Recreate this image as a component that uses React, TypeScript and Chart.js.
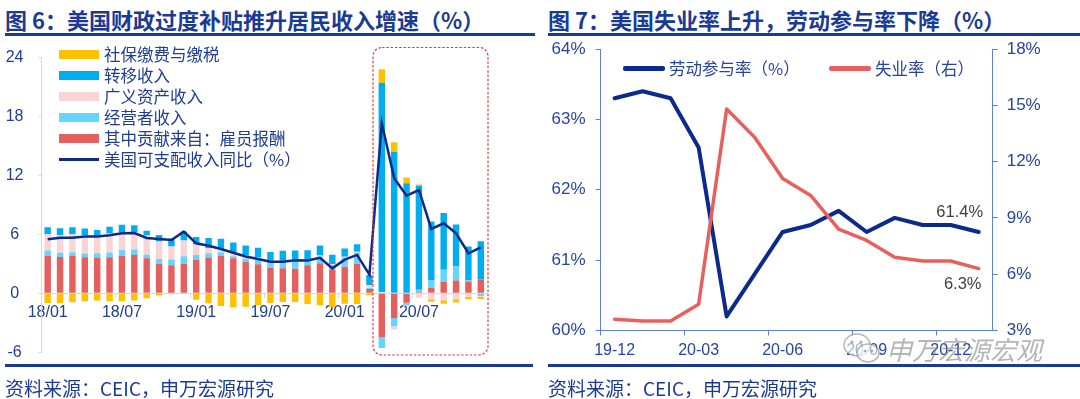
import React, { useEffect, useRef } from 'react';
import { Chart, registerables } from 'chart.js';

Chart.register(...registerables);

// ---------- Figure 6 data ----------
const incomeMonths = [
  '18/01', '18/02', '18/03', '18/04', '18/05', '18/06', '18/07', '18/08', '18/09', '18/10', '18/11', '18/12',
  '19/01', '19/02', '19/03', '19/04', '19/05', '19/06', '19/07', '19/08', '19/09', '19/10', '19/11', '19/12',
  '20/01', '20/02', '20/03', '20/04', '20/05', '20/06', '20/07', '20/08', '20/09', '20/10', '20/11', '20/12',
];
const compensation = [3.83, 3.69, 3.8, 3.66, 3.63, 3.66, 3.83, 3.9, 3.56, 3.0, 2.85, 2.98, 3.39, 3.63, 3.83, 3.56, 3.22, 2.95, 2.61, 2.54, 2.5, 2.85, 3.05, 2.42, 2.71, 2.98, 0.45, -4.45, -2.5, -0.95, 0.1, 0.55, 1.15, 1.3, 1.2, 1.4];
const proprietors = [0.51, 0.44, 0.37, 0.4, 0.44, 0.5, 0.58, 0.55, 0.36, 0.48, 0.6, 0.8, 0.5, 0.44, 0.34, 0.2, 0.3, 0.55, 0.6, 0.68, 0.85, 0.5, 0.68, 0.44, 0.9, 1.15, 0.1, -1.1, -0.85, -0.25, 0.25, 0.75, 1.25, 1.45, 0.1, -0.27];
const assetIncome = [1.66, 1.8, 1.83, 1.86, 1.7, 1.93, 1.8, 1.73, 1.97, 1.8, 1.3, 1.6, 1.08, 0.5, 0.34, 0.4, 0.35, 0.15, 0.1, 0.1, 0.1, 0.12, 0.12, 0.12, 0.1, 0.1, 0.3, 0.1, -0.34, -0.1, -0.45, -0.6, -0.7, -0.6, -0.34, -0.1];
const transfers = [0.71, 0.68, 0.71, 0.68, 0.68, 0.68, 0.75, 0.75, 0.47, 0.65, 0.82, 0.9, 0.75, 1.05, 1.05, 1.0, 1.0, 0.98, 0.9, 1.0, 0.9, 0.92, 1.0, 0.95, 0.85, 0.75, 1.0, 21.3, 14.4, 11.2, 10.6, 6.0, 5.76, 4.24, 3.46, 3.9];
const socialTax = [-0.98, -1.0, -0.92, -0.82, -0.74, -0.82, -0.82, -0.74, -0.5, -0.23, -0.08, 0, -0.66, -1.0, -1.3, -1.45, -1.38, -1.22, -0.98, -0.88, -0.88, -1.1, -1.22, -1.4, -1.06, -1.08, -0.2, 1.39, 0.95, 0.58, 0.12, -0.25, -0.35, -0.34, -0.27, -0.2];
const incomeYoY = [5.5, 5.66, 5.66, 5.78, 5.78, 5.9, 6.1, 6.12, 5.63, 5.53, 5.42, 6.27, 5.08, 4.83, 4.5, 4.12, 3.75, 3.48, 3.22, 3.2, 3.35, 3.33, 3.6, 2.54, 3.42, 3.9, 1.9, 17.29, 11.7, 9.93, 10.5, 6.54, 7.12, 6.1, 4.07, 4.68];

// ---------- Figure 7 data ----------
const laborMonths = ['19-12', '20-01', '20-02', '20-03', '20-04', '20-05', '20-06', '20-07', '20-08', '20-09', '20-10', '20-11', '20-12', '21-01'];
const participation = [63.3, 63.4, 63.3, 62.6, 60.2, 60.8, 61.4, 61.5, 61.7, 61.4, 61.6, 61.5, 61.5, 61.4];
const unemployment = [3.6, 3.5, 3.5, 4.4, 14.8, 13.3, 11.1, 10.2, 8.4, 7.8, 6.9, 6.7, 6.7, 6.3];

// ---------- styles ----------
const NUM_FONT = '"Liberation Sans", Arial, "Noto Sans CJK SC", sans-serif';
const CJK_FONT = '"Noto Sans CJK SC", "Liberation Sans", sans-serif';
const TITLE_BLUE = '#1B3A94';
const TICK_NAVY = '#1F3D92';
const TICK_BLUE = '#27449F';
const GRAY = '#D9D9D9';
const AXIS_BLUE = '#5B80D8';
const C_YELLOW = '#FFC000';
const C_BLUE = '#00AEEF';
const C_PINK = '#F9D4D4';
const C_CYAN = '#64D5FD';
const C_RED = '#E65F5F';
const C_NAVY = '#0E2A86';
const L_NAVY = '#0B2A8C';
const L_RED = '#E8605E';

const leftLegend = [
  { label: '社保缴费与缴税', color: C_YELLOW, line: false },
  { label: '转移收入', color: C_BLUE, line: false },
  { label: '广义资产收入', color: C_PINK, line: false },
  { label: '经营者收入', color: C_CYAN, line: false },
  { label: '其中贡献来自：雇员报酬', color: C_RED, line: false },
  { label: '美国可支配收入同比（%）', color: C_NAVY, line: true },
];

function makeIncomeConfig(): any {
  return {
    type: 'bar',
    data: {
      labels: incomeMonths,
      datasets: [
        { type: 'line', label: '美国可支配收入同比（%）', data: incomeYoY, borderColor: C_NAVY, backgroundColor: C_NAVY, borderWidth: 2.5, pointRadius: 0, tension: 0, order: 0, stack: 'line' },
        { label: '其中贡献来自：雇员报酬', data: compensation, backgroundColor: C_RED, order: 1, stack: 'inc' },
        { label: '经营者收入', data: proprietors, backgroundColor: C_CYAN, order: 1, stack: 'inc' },
        { label: '广义资产收入', data: assetIncome, backgroundColor: C_PINK, order: 1, stack: 'inc' },
        { label: '转移收入', data: transfers, backgroundColor: C_BLUE, order: 1, stack: 'inc' },
        { label: '社保缴费与缴税', data: socialTax, backgroundColor: C_YELLOW, order: 1, stack: 'inc' },
      ],
    },
    options: {
      responsive: false,
      animation: false,
      layout: { padding: { left: 0, right: 13, top: 26.3, bottom: 25.7 } },
      datasets: { bar: { barPercentage: 0.52, categoryPercentage: 1 } },
      plugins: { legend: { display: false }, tooltip: { enabled: false } },
      scales: {
        x: {
          stacked: true,
          position: { y: 0 },
          offset: true,
          grid: {
            offset: true,
            drawOnChartArea: false,
            tickLength: 4,
            color: (c: any) => (c.index % 6 === 0 ? GRAY : 'rgba(0,0,0,0)'),
          },
          border: { color: GRAY },
          ticks: {
            autoSkip: false,
            maxRotation: 0,
            padding: 6,
            color: TICK_NAVY,
            font: { family: NUM_FONT, size: 16 },
            callback: (_v: any, i: number) => (i % 6 === 0 ? incomeMonths[i] : ''),
          },
          afterFit: (s: any) => { s.height = 0; },
        },
        y: {
          stacked: true,
          min: -6,
          max: 24,
          ticks: {
            stepSize: 6,
            crossAlign: 'center',
            padding: 15,
            color: TICK_NAVY,
            font: { family: NUM_FONT, size: 16 },
          },
          grid: {
            tickLength: 3,
            tickColor: GRAY,
            color: (c: any) => (c.tick && c.tick.value === 0 ? GRAY : 'rgba(0,0,0,0)'),
          },
          border: { color: GRAY },
          afterFit: (s: any) => { s.width = 41.5; },
        },
      },
    },
  };
}

const endLabels = {
  id: 'endLabels',
  afterDatasetsDraw(chart: any) {
    const ctx = chart.ctx;
    ctx.save();
    ctx.font = `16.5px ${NUM_FONT}`;
    ctx.fillStyle = '#404040';
    ctx.textAlign = 'center';
    ctx.textBaseline = 'middle';
    chart.data.datasets.forEach((ds: any, di: number) => {
      const meta = chart.getDatasetMeta(di);
      const last = meta.data[meta.data.length - 1];
      if (!last) return;
      const v = ds.data[ds.data.length - 1];
      const text = `${Number(v).toFixed(1)}%`;
      if (ds.yAxisID === 'y1') ctx.fillText(text, last.x - 16, last.y + 16);
      else ctx.fillText(text, last.x - 19, last.y - 20);
    });
    ctx.restore();
  },
};

function makeLaborConfig(): any {
  return {
    type: 'line',
    data: {
      labels: laborMonths,
      datasets: [
        { label: '失业率（右）', data: unemployment, yAxisID: 'y1', borderColor: L_RED, backgroundColor: L_RED, borderWidth: 3.5, order: 0 },
        { label: '劳动参与率（%）', data: participation, yAxisID: 'y', borderColor: L_NAVY, backgroundColor: L_NAVY, borderWidth: 4, order: 1 },
      ],
    },
    options: {
      responsive: false,
      animation: false,
      layout: { padding: { left: 0, right: 0, top: 21, bottom: 0 } },
      elements: { point: { radius: 0 }, line: { tension: 0, borderJoinStyle: 'round', borderCapStyle: 'round' } },
      plugins: { legend: { display: false }, tooltip: { enabled: false } },
      scales: {
        x: {
          offset: true,
          grid: {
            offset: true,
            drawOnChartArea: false,
            tickLength: 5,
            color: (c: any) => (c.index % 3 === 0 ? AXIS_BLUE : 'rgba(0,0,0,0)'),
          },
          border: { color: AXIS_BLUE },
          ticks: {
            autoSkip: false,
            maxRotation: 0,
            padding: 5,
            color: TICK_BLUE,
            font: { family: NUM_FONT, size: 16 },
            callback: (_v: any, i: number) => (i % 3 === 0 ? laborMonths[i] : ''),
          },
          afterFit: (s: any) => { s.height = 39.5; },
        },
        y: {
          position: 'left',
          min: 60,
          max: 64,
          ticks: { stepSize: 1, padding: 10, color: TICK_BLUE, font: { family: NUM_FONT, size: 17 }, callback: (v: any) => `${v}%` },
          grid: { drawOnChartArea: false, tickLength: 5, color: AXIS_BLUE },
          border: { color: AXIS_BLUE },
          afterFit: (s: any) => { s.width = 55.6; },
        },
        y1: {
          position: 'right',
          min: 3,
          max: 18,
          ticks: { stepSize: 3, padding: 9, color: TICK_BLUE, font: { family: NUM_FONT, size: 17 }, callback: (v: any) => `${v}%` },
          grid: { drawOnChartArea: false, tickLength: 5, color: AXIS_BLUE },
          border: { color: AXIS_BLUE },
          afterFit: (s: any) => { s.width = 87.3; },
        },
      },
    },
    plugins: [endLabels],
  };
}

function ChartCanvas({ make, left, top, width, height }: { make: () => any; left: number; top: number; width: number; height: number }) {
  const ref = useRef<HTMLCanvasElement | null>(null);
  useEffect(() => {
    if (!ref.current) return;
    const chart = new Chart(ref.current, make());
    return () => chart.destroy();
  }, []);
  return (
    <canvas
      ref={ref}
      width={width}
      height={height}
      style={{ position: 'absolute', left, top, width, height }}
    />
  );
}

const abs = (s: React.CSSProperties): React.CSSProperties => ({ position: 'absolute', ...s });

export default function App() {
  useEffect(() => {
    document.body.style.margin = '0';
    document.body.style.background = '#ffffff';
  }, []);

  const titleStyle: React.CSSProperties = {
    fontFamily: CJK_FONT,
    fontWeight: 700,
    fontSize: 22,
    lineHeight: '26px',
    color: TITLE_BLUE,
    whiteSpace: 'nowrap',
  };
  const footStyle: React.CSSProperties = {
    fontFamily: CJK_FONT,
    fontSize: 19,
    lineHeight: '22px',
    color: TITLE_BLUE,
    whiteSpace: 'nowrap',
  };
  const legendText: React.CSSProperties = {
    fontFamily: CJK_FONT,
    fontSize: 16.5,
    lineHeight: '22px',
    color: TICK_NAVY,
    whiteSpace: 'nowrap',
  };

  return (
    <div style={{ position: 'relative', width: 1080, height: 399, background: '#fff', overflow: 'hidden' }}>
      {/* Left panel */}
      <div style={abs({ left: 5, top: 6, ...titleStyle })}>图 6：美国财政过度补贴推升居民收入增速（%）</div>
      <div style={abs({ left: 5, top: 33, width: 530, height: 3, background: TITLE_BLUE })} />
      <ChartCanvas make={makeIncomeConfig} left={0} top={31} width={500} height={347} />
      {leftLegend.map((e, i) => (
        <div key={e.label} style={abs({ left: 59, top: 54 + i * 21 - 11, height: 22, display: 'flex', alignItems: 'center' })}>
          <div style={{ width: 40, height: e.line ? 3 : 9, background: e.color, marginRight: 5 }} />
          <span style={legendText}>{e.label}</span>
        </div>
      ))}
      <svg style={abs({ left: 370, top: 45, width: 122, height: 314, overflow: 'visible' })} width={122} height={314}>
        <rect x={3} y={2.5} width={115} height={307.5} rx={9} ry={9} fill="none" stroke="#E03A3E" strokeWidth={1.2} strokeDasharray="2.5 1.8" />
      </svg>
      <div style={abs({ left: 5, top: 364, width: 528, height: 3, background: TITLE_BLUE })} />
      <div style={abs({ left: 5, top: 377, ...footStyle })}>资料来源：CEIC，申万宏源研究</div>

      {/* Right panel */}
      <div style={abs({ left: 548, top: 6, ...titleStyle })}>图 7：美国失业率上升，劳动参与率下降（%）</div>
      <div style={abs({ left: 548, top: 33, width: 532, height: 3, background: TITLE_BLUE })} />
      <ChartCanvas make={makeLaborConfig} left={545} top={28} width={535} height={342} />
      <div style={abs({ left: 623, top: 57, height: 22, display: 'flex', alignItems: 'center' })}>
        <div style={{ width: 42, height: 5, background: L_NAVY, borderRadius: 2, marginRight: 4 }} />
        <span style={{ ...legendText, color: TICK_BLUE }}>劳动参与率（%）</span>
      </div>
      <div style={abs({ left: 829, top: 57, height: 22, display: 'flex', alignItems: 'center' })}>
        <div style={{ width: 42, height: 5, background: L_RED, borderRadius: 2, marginRight: 4 }} />
        <span style={{ ...legendText, color: TICK_BLUE }}>失业率（右）</span>
      </div>
      {/* watermark */}
      <svg style={abs({ left: 842, top: 331, width: 40, height: 36 })} width={40} height={36}>
        <ellipse cx={15} cy={14} rx={13} ry={11} fill="rgba(255,255,255,0.6)" stroke="rgba(150,150,150,0.7)" strokeWidth={1.5} />
        <ellipse cx={26} cy={22} rx={11} ry={9} fill="rgba(255,255,255,0.6)" stroke="rgba(150,150,150,0.7)" strokeWidth={1.5} />
        <circle cx={10} cy={11} r={1.6} fill="rgba(150,150,150,0.8)" />
        <circle cx={19} cy={11} r={1.6} fill="rgba(150,150,150,0.8)" />
        <circle cx={23} cy={20} r={1.3} fill="rgba(150,150,150,0.8)" />
        <circle cx={30} cy={20} r={1.3} fill="rgba(150,150,150,0.8)" />
      </svg>
      <div style={abs({ left: 886, top: 333, fontFamily: CJK_FONT, fontSize: 26, lineHeight: '32px', color: 'rgba(120,120,120,0.55)', fontStyle: 'italic', whiteSpace: 'nowrap' })}>申万宏源宏观</div>
      <div style={abs({ left: 548, top: 364, width: 532, height: 3, background: TITLE_BLUE })} />
      <div style={abs({ left: 548, top: 377, ...footStyle })}>资料来源：CEIC，申万宏源研究</div>
    </div>
  );
}
